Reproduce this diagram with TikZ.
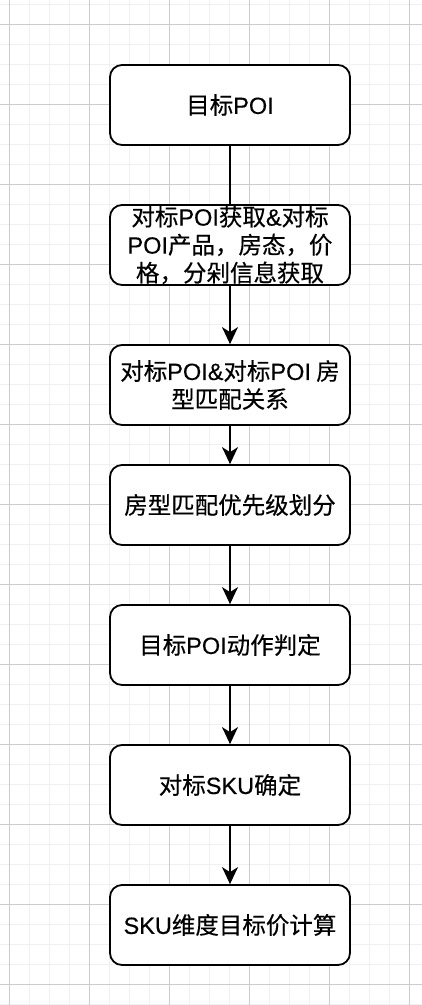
\documentclass[tikz,border=0pt]{standalone}
\usepackage{fontspec}
\setmainfont{Noto Sans CJK SC}[FakeBold=0.4]
\newfontfamily\latf{Liberation Sans}[FakeBold=0.4]
\newcommand{\lt}[1]{{\latf #1}}
\usetikzlibrary{arrows.meta}
\tikzset{
  stepbox/.style={draw=black, line width=1.8pt, fill=white, rounded corners=12pt,
    minimum width=240pt, minimum height=80pt, inner sep=0pt, align=center,
    font=\fontsize{23.5pt}{28pt}\selectfont},
  flow/.style={line width=1.8pt, -{Stealth[length=17pt,width=16pt,inset=5pt]}},
  plain/.style={line width=1.8pt},
  minorgrid/.style={draw=black!6, line width=1pt},
  majorgrid/.style={draw=black!20, line width=1pt}
}
\begin{document}
\begin{tikzpicture}[x=1pt,y=1pt]
\useasboundingbox (0,0) rectangle (422,-1005);
\fill[white] (0,0) rectangle (422,-1005);
% grid
\foreach \k in {0,...,20} { \draw[minorgrid] (9.3+20*\k,0) -- (9.3+20*\k,-1005); }
\foreach \k in {0,...,50} { \draw[minorgrid] (0,-4.3-20*\k) -- (422,-4.3-20*\k); }
\foreach \k in {0,...,5} { \draw[majorgrid] (9.3+80*\k,0) -- (9.3+80*\k,-1005); }
\foreach \k in {0,...,12} { \draw[majorgrid] (0,-24.3-80*\k) -- (422,-24.3-80*\k); }
% boxes
\node[stepbox] (b1) at (230,-105) {目标\lt{POI}};
\node[stepbox] (b2) at (230,-245) {对标\lt{POI}获取\lt{\&}对标\\\lt{POI}产品，房态，价\\格，分剁信息获取};
\node[stepbox] (b3) at (230,-385) {对标\lt{POI\&}对标\lt{POI} 房\\型匹配关系};
\node[stepbox] (b4) at (230,-505) {房型匹配优先级划分};
\node[stepbox] (b5) at (230,-645) {目标\lt{POI}动作判定};
\node[stepbox] (b6) at (230,-785) {对标\lt{SKU}确定};
\node[stepbox] (b7) at (230,-925) {\lt{SKU}维度目标价计算};
% connectors
\draw[plain] (b1.south) -- (b2.north);
\draw[flow] (b2.south) -- (b3.north);
\draw[flow] (b3.south) -- (b4.north);
\draw[flow] (b4.south) -- (b5.north);
\draw[flow] (b5.south) -- (b6.north);
\draw[flow] (b6.south) -- (b7.north);
\end{tikzpicture}
\end{document}
